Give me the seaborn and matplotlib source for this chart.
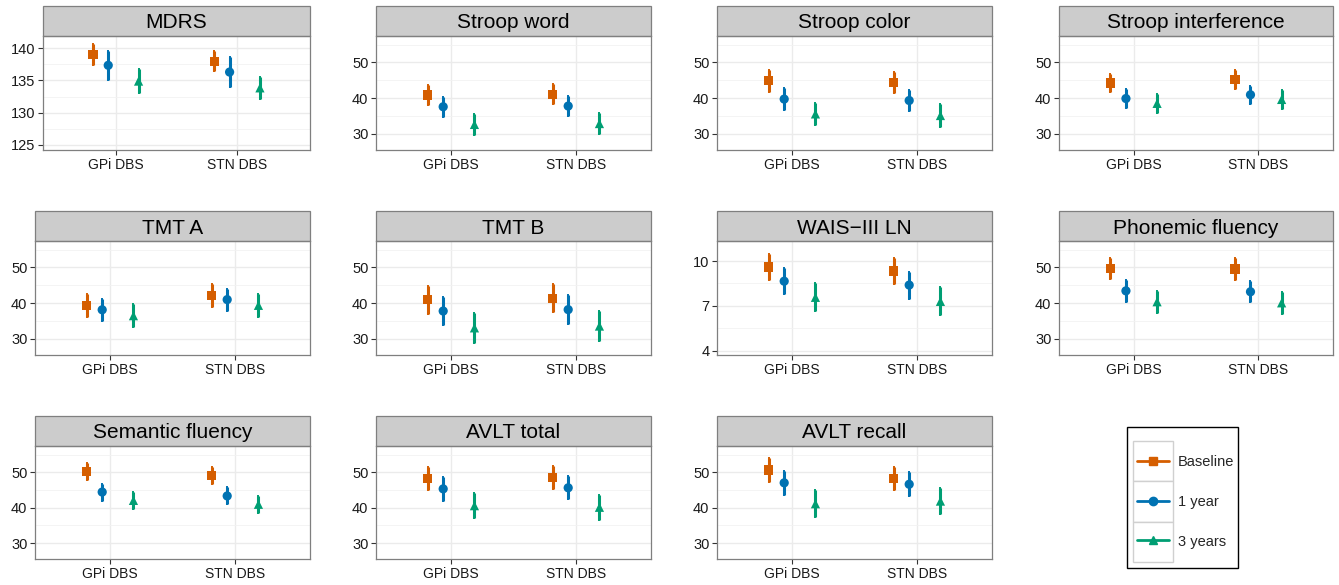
import numpy as np
import pandas as pd
import matplotlib
matplotlib.use('Agg')
import matplotlib.pyplot as plt
import seaborn as sns
from matplotlib.patches import Rectangle
from matplotlib.lines import Line2D
from matplotlib.ticker import AutoMinorLocator

tests = ['MDRS', 'Stroop word', 'Stroop color', 'Stroop interference',
         'TMT A', 'TMT B', 'WAIS\u2212III LN', 'Phonemic fluency',
         'Semantic fluency', 'AVLT total', 'AVLT recall']
groups = ['GPi DBS', 'STN DBS']
visits = ['Baseline', '1 year', '3 years']

# per test: GPi (baseline, 1 year, 3 years), then STN (baseline, 1 year, 3 years)
means = [
    [139.05, 137.35, 134.9, 138.0, 136.3, 133.85],
    [40.9, 37.6, 32.65, 41.1, 37.8, 32.9],
    [44.85, 39.75, 35.6, 44.45, 39.35, 35.15],
    [44.25, 39.9, 38.55, 45.15, 40.95, 39.65],
    [39.3, 38.15, 36.5, 42.2, 41.0, 39.4],
    [40.93, 37.8, 33.1, 41.35, 38.2, 33.6],
    [9.6, 8.65, 7.57, 9.33, 8.39, 7.3],
    [49.7, 43.45, 40.4, 49.55, 43.2, 40.1],
    [50.3, 44.4, 42.05, 49.15, 43.3, 40.95],
    [48.2, 45.3, 40.55, 48.4, 45.6, 40.1],
    [50.6, 47.0, 41.1, 48.25, 46.6, 41.85],
]
ci = [
    [1.65, 2.25, 1.8, 1.6, 2.3, 1.75],
    [2.8, 2.85, 3.0, 2.85, 2.9, 3.0],
    [3.0, 3.05, 3.15, 3.0, 3.0, 3.1],
    [2.6, 2.65, 2.7, 2.6, 2.55, 2.7],
    [3.15, 3.1, 3.25, 3.15, 3.05, 3.25],
    [3.95, 3.9, 4.15, 3.9, 3.95, 4.15],
    [0.9, 0.89, 0.93, 0.87, 0.9, 0.93],
    [3.0, 3.0, 3.1, 3.0, 3.0, 3.1],
    [2.4, 2.4, 2.45, 2.4, 2.4, 2.45],
    [3.2, 3.3, 3.6, 3.25, 3.3, 3.6],
    [3.3, 3.4, 3.75, 3.35, 3.4, 3.75],
]

palette = {'Baseline': '#D55E00', '1 year': '#0072B2', '3 years': '#009E73'}
markers = {'Baseline': 's', '1 year': 'o', '3 years': '^'}
dodge = {'Baseline': -0.1875, '1 year': -0.0625, '3 years': 0.1875}

rows = []
for t, m_row, c_row in zip(tests, means, ci):
    k = 0
    for gi, grp in enumerate(groups):
        for v in visits:
            rows.append({'test': t, 'group': grp, 'visit': v,
                         'x': gi + dodge[v], 'mean': m_row[k], 'ci': c_row[k]})
            k += 1
df = pd.DataFrame(rows)

sns.set_theme(style='white')
plt.rcParams['font.family'] = ['Liberation Sans', 'DejaVu Sans']


def draw(data, **kws):
    ax = plt.gca()
    for v in visits:
        d = data[data['visit'] == v]
        ax.errorbar(d['x'], d['mean'], yerr=d['ci'], fmt='none', ecolor=palette[v],
                    elinewidth=2.2, capsize=1.0, capthick=1.4, zorder=3)
    sns.scatterplot(data=data, x='x', y='mean', hue='visit', style='visit',
                    hue_order=visits, style_order=visits, palette=palette,
                    markers=markers, s=44, linewidth=0, legend=False, ax=ax, zorder=4)


g = sns.FacetGrid(df, col='test', col_wrap=4, col_order=tests, sharex=False, sharey=False,
                  despine=False, height=1.95, aspect=1.7167)
g.map_dataframe(draw)
fig = g.figure
fig.set_size_inches(13.39, 5.85)
W, H = 1339, 585

row_top = [36, 241, 446]
row_bot = [150, 355, 559]
col_right = [310, 651, 992, 1333]

for i, t in enumerate(tests):
    ax = g.axes_dict[t]
    r, c = divmod(i, 4)
    left = [43, 376, 717, 1059][c] if r == 0 else [35, 376, 717, 1059][c]
    ax.set_position([left / W, 1 - row_bot[r] / H, (col_right[c] - left) / W,
                     (row_bot[r] - row_top[r]) / H])
    if t == 'MDRS':
        ax.set_ylim(124.2, 141.9)
        ax.set_yticks([125, 130, 135, 140])
    elif t.startswith('WAIS'):
        ax.set_ylim(3.71, 11.34)
        ax.set_yticks([4, 7, 10])
    else:
        ax.set_ylim(25.5, 57.4)
        ax.set_yticks([30, 40, 50])
    ax.yaxis.set_minor_locator(AutoMinorLocator(2))
    ax.set_xlim(-0.6, 1.6)
    ax.set_xticks([0, 1])
    ax.set_xticklabels(groups)
    ax.set_xlabel('')
    ax.set_ylabel('')
    ax.set_title('')
    ax.grid(True, which='major', color='#EBEBEB', linewidth=1.0)
    ax.grid(True, which='minor', axis='y', color='#F2F2F2', linewidth=0.6)
    ax.set_axisbelow(True)
    for s in ax.spines.values():
        s.set_color('#7F7F7F')
        s.set_linewidth(0.9)
    ax.tick_params(which='major', bottom=True, left=True, length=3.5, width=0.8,
                   color='#333333', labelsize=10, labelcolor='#1a1a1a', pad=2)
    ax.tick_params(axis='y', which='major', labelsize=10.5)
    ax.tick_params(which='minor', length=0)
    h = 30 / (row_bot[r] - row_top[r])
    ax.add_patch(Rectangle((0, 1), 1, h, transform=ax.transAxes, clip_on=False,
                           facecolor='#CCCCCC', edgecolor='#7F7F7F', linewidth=0.9))
    ax.text(0.5, 1 + h / 2, t, transform=ax.transAxes, ha='center', va='center_baseline',
            fontsize=15, color='black')

# legend
fig.add_artist(Rectangle((1126.7 / W, 1 - 567.7 / H), 111 / W, 140.4 / H,
                         transform=fig.transFigure, facecolor='white',
                         edgecolor='black', linewidth=1.0))
for k in range(3):
    top = 440.7 + k * 40.4
    fig.add_artist(Rectangle((1133 / W, 1 - (top + 40.4) / H), 40 / W, 40.4 / H,
                             transform=fig.transFigure, facecolor='white',
                             edgecolor='#D0D0D0', linewidth=1.0))
handles = [Line2D([0], [0], color=palette[v], marker=markers[v], lw=2, ms=6) for v in visits]
fig.legend(handles, visits, loc='center left', bbox_to_anchor=(1137 / W, 1 - 502 / H),
           frameon=False, fontsize=10.5, handlelength=2.2, handletextpad=0.6,
           labelspacing=1.75, borderpad=0, borderaxespad=0)

fig.savefig('out.png', dpi=100)
